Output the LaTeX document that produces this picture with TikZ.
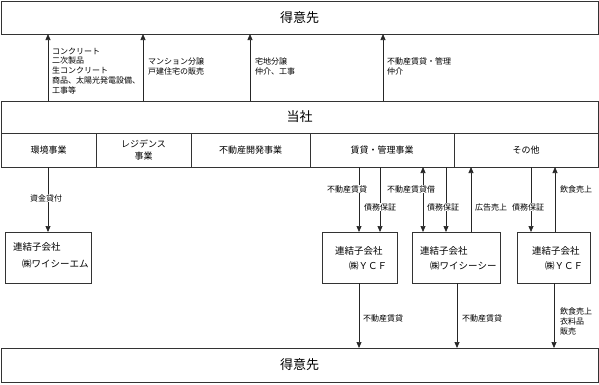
\documentclass[tikz,border=0pt]{standalone}
\usepackage{fontspec}
\newfontfamily\jp{Noto Sans CJK JP}
\usetikzlibrary{arrows.meta}
\begin{document}
\begin{tikzpicture}[x=1pt,y=-1pt,
  every node/.style={font=\jp},
  bigbox/.style={draw=black!80, line width=0.7pt, inner sep=0pt, outer sep=0pt, font=\jp\fontsize{13}{15}\selectfont},
  segbox/.style={draw=black!80, line width=0.7pt, inner sep=0pt, outer sep=0pt, minimum height=34pt, align=center, font=\jp\fontsize{9}{12}\selectfont},
  subbox/.style={draw=black!80, line width=0.7pt, inner sep=0pt, outer sep=0pt, minimum height=51pt},
  boxtxt/.style={anchor=west, inner sep=0pt, font=\jp\fontsize{9.5}{11}\selectfont},
  arr/.style={draw=black!85, line width=0.7pt, -{Triangle[length=6pt,width=5pt]}},
  arrboth/.style={draw=black!85, line width=0.7pt, {Triangle[length=6pt,width=5pt]}-{Triangle[length=6pt,width=5pt]}},
  lbl/.style={inner sep=0.5pt, fill=white, font=\jp\fontsize{8}{9.8}\selectfont},
  lblr/.style={inner sep=0pt, anchor=west, align=left, font=\jp\fontsize{8}{9.8}\selectfont},
  lbltop/.style={inner sep=0pt, anchor=north west, align=left, font=\jp\fontsize{8}{9.8}\selectfont}
]
\useasboundingbox (0,0) rectangle (599,384);
% top customers box
\node[bigbox, minimum width=597pt, minimum height=33pt] (cust) at (299.5,17.5) {得意先};
% company box
\node[bigbox, minimum width=597pt, minimum height=32pt] (tosha) at (299.5,117) {当社};
% segments
\node[segbox, minimum width=95pt]  (seg1) at (48.5,150) {環境事業};
\node[segbox, minimum width=95pt]  (seg2) at (143.5,150) {レジデンス\\事業};
\node[segbox, minimum width=119pt] (seg3) at (250.5,150) {不動産開発事業};
\node[segbox, minimum width=144pt] (seg4) at (382,150) {賃貸・管理事業};
\node[segbox, minimum width=144pt] (seg5) at (526,150) {その他};
% subsidiaries
\node[subbox, minimum width=86pt] (sub1) at (48,257.5) {};
\node[subbox, minimum width=75pt] (sub2) at (359.5,257.5) {};
\node[subbox, minimum width=88pt] (sub3) at (456,257.5) {};
\node[subbox, minimum width=73pt] (sub4) at (553.5,257.5) {};
\node[boxtxt] (t1a) at (13,247) {連結子会社};
\node[boxtxt] (t1b) at (22,264) {㈱ワイシーエム};
\node[boxtxt] (t2a) at (335,251) {連結子会社};
\node[boxtxt] (t2b) at (349,266) {㈱ＹＣＦ};
\node[boxtxt] (t3a) at (420,251) {連結子会社};
\node[boxtxt] (t3b) at (430,266) {㈱ワイシーシー};
\node[boxtxt] (t4a) at (532,251) {連結子会社};
\node[boxtxt] (t4b) at (545,266) {㈱ＹＣＦ};
% bottom customers box
\node[bigbox, minimum width=597pt, minimum height=34pt] (cust2) at (299.5,365) {得意先};

% x positions of connectors
\coordinate (u1) at (48,0);
\coordinate (u2) at (143,0);
\coordinate (u3) at (250,0);
\coordinate (u4) at (383,0);
\coordinate (d1) at (48,0);
\coordinate (d2) at (359,0);
\coordinate (d3) at (380,0);
\coordinate (d4) at (423,0);
\coordinate (d5) at (446,0);
\coordinate (d6) at (471,0);
\coordinate (d7) at (531,0);
\coordinate (d8) at (555,0);
\coordinate (b1) at (359,0);
\coordinate (b2) at (457,0);
\coordinate (b3) at (554,0);

% upward arrows to customers
\draw[arr] (tosha.north -| u1) -- (cust.south -| u1);
\draw[arr] (tosha.north -| u2) -- (cust.south -| u2);
\draw[arr] (tosha.north -| u3) -- (cust.south -| u3);
\draw[arr] (tosha.north -| u4) -- (cust.south -| u4);
\node[lbltop] (l1) at (52,47.5) {コンクリート\\二次製品\\生コンクリート\\商品、太陽光発電設備、\\工事等};
\node[lbltop] (l2) at (148,57.5) {マンション分譲\\戸建住宅の販売};
\node[lbltop] (l3) at (255,57.5) {宅地分譲\\仲介、工事};
\node[lbltop] (l4) at (387,57.5) {不動産賃貸・管理\\仲介};

% segments to subsidiaries
\draw[arr] (seg1.south -| d1) -- (sub1.north -| d1);
\node[lbl] at (46,198) {資金貸付};
\draw[arr] (seg4.south -| d2) -- (sub2.north -| d2);
\node[lbl] at (347,189) {不動産賃貸};
\draw[arr] (seg4.south -| d3) -- (sub2.north -| d3);
\node[lbl] at (380,207) {債務保証};
\draw[arrboth] (seg4.south -| d4) -- (sub3.north -| d4);
\node[lbl] at (411,189) {不動産賃貸借};
\draw[arr] (seg4.south -| d5) -- (sub3.north -| d5);
\node[lbl] at (443,207) {債務保証};
\draw[arr] (sub3.north -| d6) -- (seg5.south -| d6);
\node[lblr] at (475,207) {広告売上};
\draw[arr] (seg5.south -| d7) -- (sub4.north -| d7);
\node[lbl] at (528,207) {債務保証};
\draw[arr] (sub4.north -| d8) -- (seg5.south -| d8);
\node[lblr] at (560,189) {飲食売上};

% subsidiaries to customers
\draw[arr] (sub2.south -| b1) -- (cust2.north -| b1);
\node[lblr] at (363,318) {不動産賃貸};
\draw[arr] (sub3.south -| b2) -- (cust2.north -| b2);
\node[lblr] at (462,318) {不動産賃貸};
\draw[arr] (sub4.south -| b3) -- (cust2.north -| b3);
\node[lbltop] at (560,307.5) {飲食売上\\衣料品\\販売};
\end{tikzpicture}
\end{document}
